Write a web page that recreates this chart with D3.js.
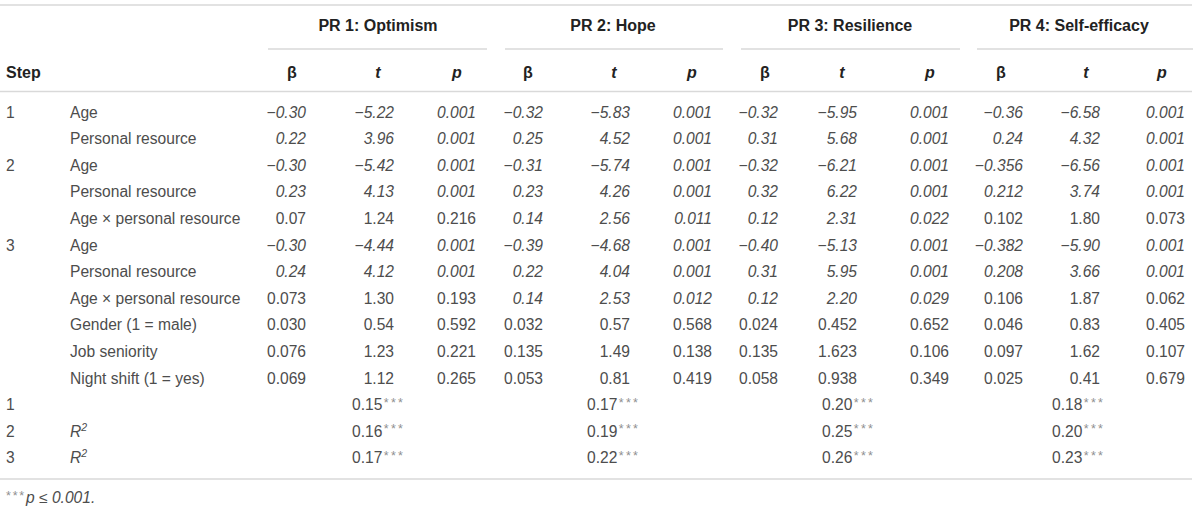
<!DOCTYPE html>
<html><head><meta charset="utf-8">
<script src="https://cdn.jsdelivr.net/npm/d3@7"></script>
<style>
html,body{margin:0;padding:0;background:#fff;}
svg{display:block;}
text{font-family:"Liberation Sans",Arial,sans-serif;}
</style></head>
<body>
<svg id="chart" width="1200" height="509"></svg>
<script>
// ---------- data ----------
const groups = ["PR 1: Optimism", "PR 2: Hope", "PR 3: Resilience", "PR 4: Self-efficacy"];
const statHeaders = ["β", "t", "p"];
const stepLabels = ["1", "", "2", "", "", "3", "", "", "", "", "", "1", "2", "3"];
const rowLabels = ["Age", "Personal resource", "Age", "Personal resource", "Age × personal resource",
  "Age", "Personal resource", "Age × personal resource", "Gender (1 = male)", "Job seniority",
  "Night shift (1 = yes)", "", "R2", "R2"];

const beta1 = ["−0.30","0.22","−0.30","0.23","0.07","−0.30","0.24","0.073","0.030","0.076","0.069"];
const t1    = ["−5.22","3.96","−5.42","4.13","1.24","−4.44","4.12","1.30","0.54","1.23","1.12"];
const p1    = ["0.001","0.001","0.001","0.001","0.216","0.001","0.001","0.193","0.592","0.221","0.265"];
const beta2 = ["−0.32","0.25","−0.31","0.23","0.14","−0.39","0.22","0.14","0.032","0.135","0.053"];
const t2    = ["−5.83","4.52","−5.74","4.26","2.56","−4.68","4.04","2.53","0.57","1.49","0.81"];
const p2    = ["0.001","0.001","0.001","0.001","0.011","0.001","0.001","0.012","0.568","0.138","0.419"];
const beta3 = ["−0.32","0.31","−0.32","0.32","0.12","−0.40","0.31","0.12","0.024","0.135","0.058"];
const t3    = ["−5.95","5.68","−6.21","6.22","2.31","−5.13","5.95","2.20","0.452","1.623","0.938"];
const p3    = ["0.001","0.001","0.001","0.001","0.022","0.001","0.001","0.029","0.652","0.106","0.349"];
const beta4 = ["−0.36","0.24","−0.356","0.212","0.102","−0.382","0.208","0.106","0.046","0.097","0.025"];
const t4    = ["−6.58","4.32","−6.56","3.74","1.80","−5.90","3.66","1.87","0.83","1.62","0.41"];
const p4    = ["0.001","0.001","0.001","0.001","0.073","0.001","0.001","0.062","0.405","0.107","0.679"];
const r2Values = [["0.15","0.16","0.17"],["0.17","0.19","0.22"],["0.20","0.25","0.26"],["0.18","0.20","0.23"]];
const footnote = "p ≤ 0.001.";

// ---------- layout ----------
const svg = d3.select("#chart");
const bodyColor = "#4d4d4d", headColor = "#222", ruleColor = "#d9d9d9", starColor = "#8f8f8f";
const bodySize = 15.6, headSize = 16, starSize = 12.5;

const statTable = [[beta1,t1,p1],[beta2,t2,p2],[beta3,t3,p3],[beta4,t4,p4]];
const nRows = rowLabels.length;

const y = d3.scaleLinear().domain([0, nRows - 1]).range([117.6, 117.6 + (nRows - 1) * 26.6]);
const groupCenter = d3.scaleOrdinal().domain(groups).range([378, 613, 850, 1079]);
const groupLine = d3.scaleOrdinal().domain(groups).range([[268,487],[505,723],[741,960],[977,1193]]);
const colRight = d3.scaleOrdinal().domain(groups).range([[306,394,476],[543,630,712],[778,857,949],[1023,1100,1185]]);
const colHead = d3.scaleOrdinal().domain(groups).range([[292,378,457],[528,614,692],[765,842,930],[1001,1086,1162]]);
const r2Start = d3.scaleOrdinal().domain(groups).range([352, 587, 822, 1052]);

// rules
const rules = [[0,1192,5],[0,1192,91.5],[0,1192,479]];
svg.selectAll("line.rule").data(rules).join("line").attr("class","rule")
  .attr("x1",d=>d[0]).attr("x2",d=>d[1]).attr("y1",d=>d[2]).attr("y2",d=>d[2])
  .attr("stroke",ruleColor).attr("stroke-width",1.6);
svg.selectAll("line.gline").data(groups).join("line").attr("class","gline")
  .attr("x1",g=>groupLine(g)[0]).attr("x2",g=>groupLine(g)[1]).attr("y1",49).attr("y2",49)
  .attr("stroke",ruleColor).attr("stroke-width",1.6);

// group headers
svg.selectAll("text.ghead").data(groups).join("text").attr("class","ghead")
  .attr("x",g=>groupCenter(g)).attr("y",31).attr("text-anchor","middle")
  .attr("font-size",headSize).attr("font-weight","bold").attr("fill",headColor).text(g=>g);

// "Step"
svg.append("text").attr("x",6).attr("y",78).attr("font-size",headSize).attr("font-weight","bold")
  .attr("fill",headColor).text("Step");

// stat headers
groups.forEach(g => {
  svg.selectAll(null).data(statHeaders).join("text")
    .attr("x",(d,i)=>colHead(g)[i]).attr("y",78).attr("text-anchor","middle")
    .attr("font-size",headSize).attr("font-weight","bold")
    .attr("font-style",(d,i)=>i===0?"normal":"italic").attr("fill",headColor).text(d=>d);
});

// step numbers
svg.selectAll("text.step").data(stepLabels).join("text").attr("class","step")
  .attr("x",6).attr("y",(d,i)=>y(i)).attr("font-size",bodySize).attr("fill",bodyColor).text(d=>d);

// row labels
svg.selectAll("text.rlab").data(rowLabels).join("text").attr("class","rlab")
  .attr("x",70).attr("y",(d,i)=>y(i)).attr("font-size",bodySize).attr("fill",bodyColor)
  .each(function(d){
    const s = d3.select(this);
    if (d === "R2") {
      s.append("tspan").attr("font-style","italic").text("R");
      s.append("tspan").attr("font-size",10.5).attr("font-style","italic").attr("dy",-6).text("2");
    } else s.text(d);
  });

// stat cells
groups.forEach((g, gi) => {
  const cols = statTable[gi];
  const pv = cols[2];
  cols.forEach((col, ci) => {
    svg.selectAll(null).data(col).join("text")
      .attr("x", colRight(g)[ci]).attr("y",(d,i)=>y(i)).attr("text-anchor","end")
      .attr("font-size",bodySize).attr("fill",bodyColor)
      .attr("font-style",(d,i)=> +pv[i] < 0.05 ? "italic" : "normal")
      .text(d=>d);
  });
  // R2 rows
  svg.selectAll(null).data(r2Values[gi]).join("text")
    .attr("x", r2Start(g)).attr("y",(d,i)=>y(11+i))
    .attr("font-size",bodySize).attr("fill",bodyColor)
    .each(function(d){
      const s = d3.select(this);
      s.append("tspan").text(d);
      s.append("tspan").attr("font-size",starSize).attr("fill",starColor).attr("dx",1.5)
        .attr("letter-spacing",2.2).attr("dy",-3.5).text("***");
    });
});

// footnote
const fn = svg.append("text").attr("x",6).attr("y",503).attr("font-size",bodySize).attr("fill",bodyColor);
fn.append("tspan").attr("font-size",starSize).attr("fill",starColor).attr("letter-spacing",1.8)
  .attr("dy",-3.5).text("***");
fn.append("tspan").attr("font-style","italic").attr("dy",3.5).text(footnote);
</script>
</body></html>
